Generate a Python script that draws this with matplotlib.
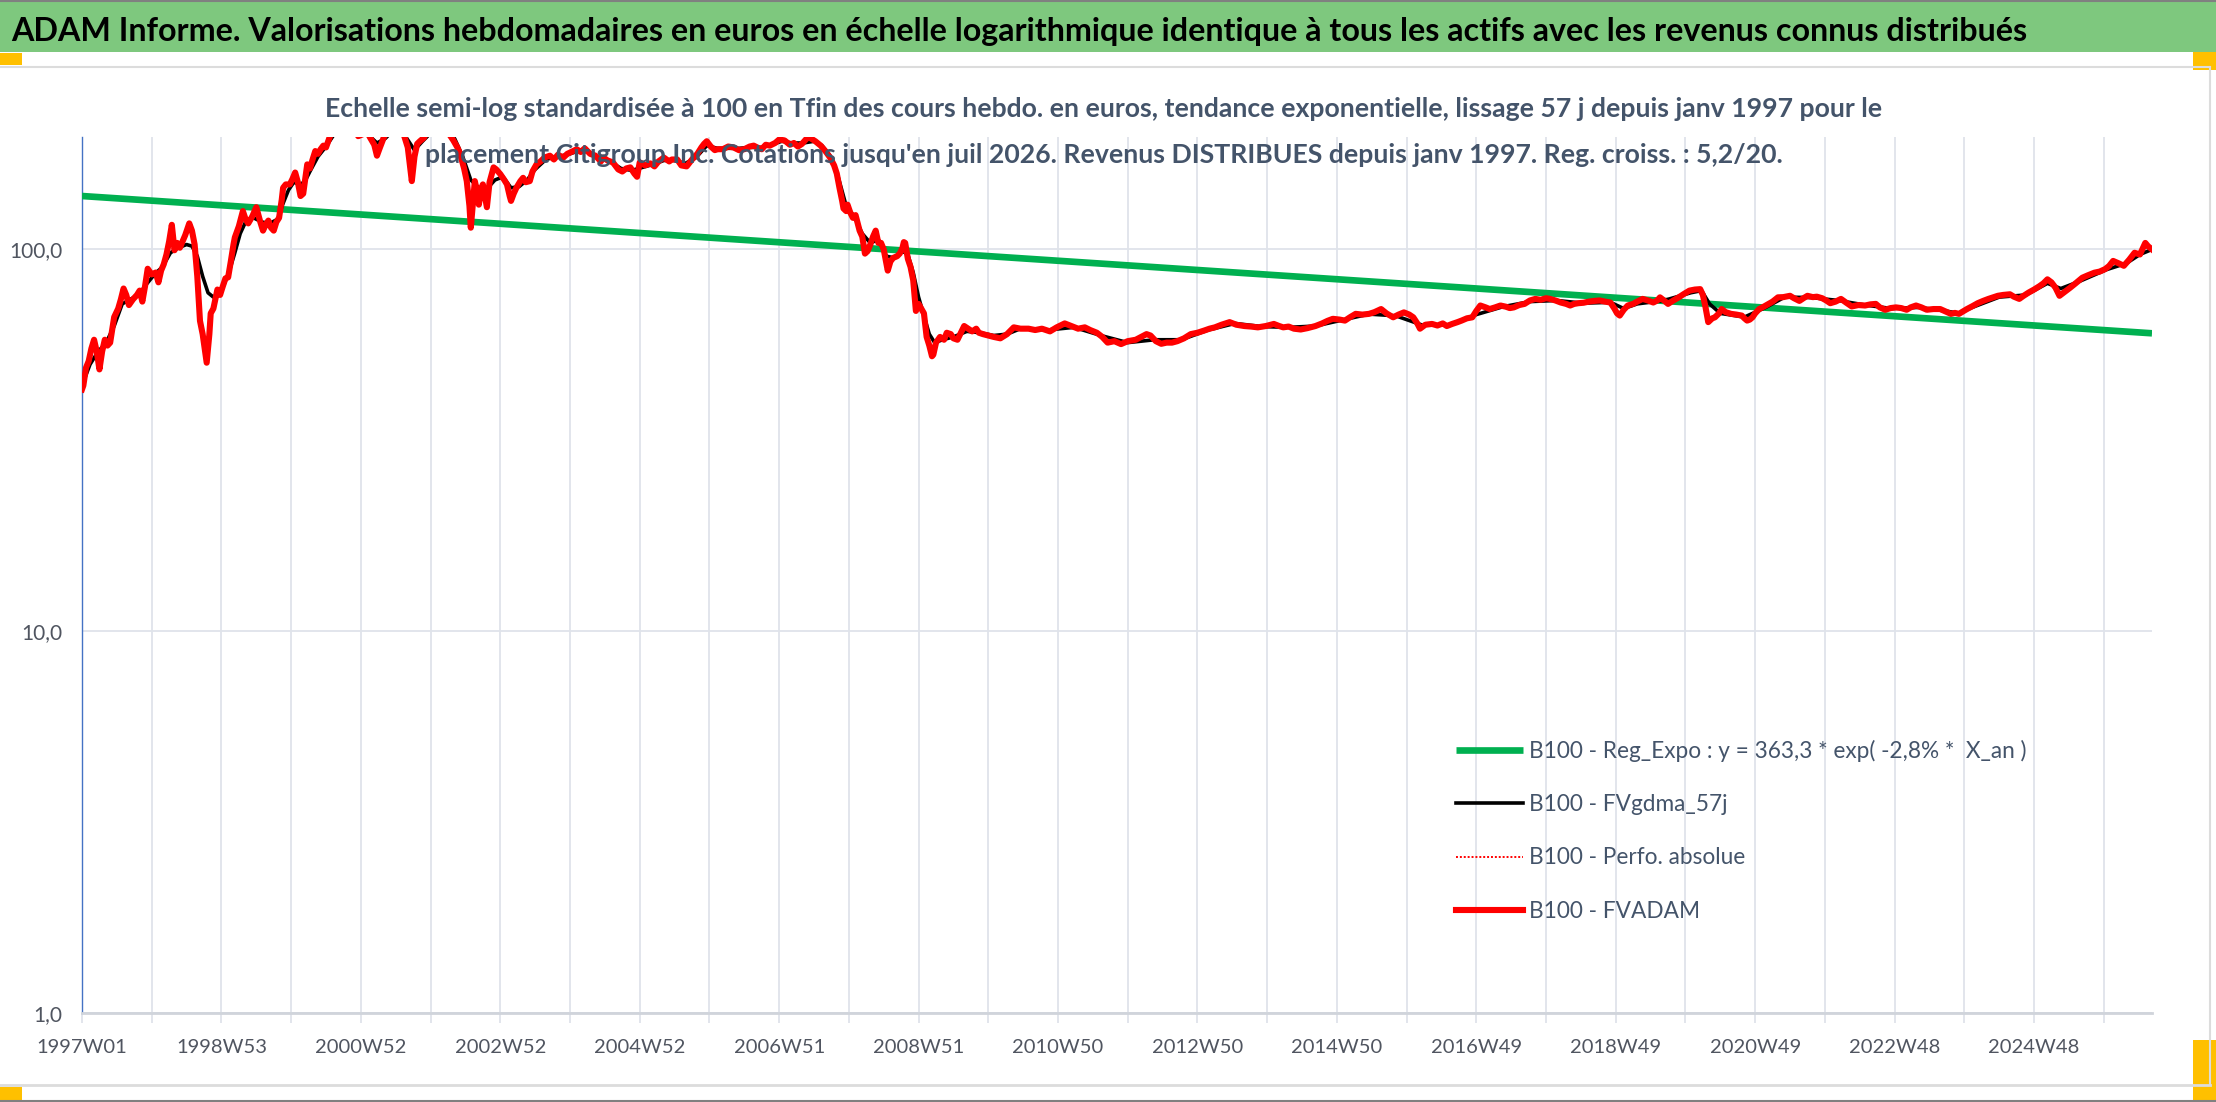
import numpy as np
import matplotlib
matplotlib.use("Agg")
import matplotlib.pyplot as plt
from matplotlib.patches import Rectangle
from matplotlib.lines import Line2D
from matplotlib.ticker import FixedLocator, NullLocator

plt.rcParams['font.family'] = ['Lato', 'DejaVu Sans']

W, H = 2216, 1102

# ---- data (week index since 1997W01, base-100 value) ----
tick_labels = ["1997W01", "1998W53", "2000W52", "2002W52", "2004W52", "2006W51",
               "2008W51", "2010W50", "2012W50", "2014W50", "2016W49", "2018W49",
               "2020W49", "2022W48", "2024W48"]
n_weeks = 1545

trend_weeks = [0, 1544]
trend_vals = [138.0, 60.3]

red_weeks = [0, 1, 3, 5, 7, 9, 11, 13, 15, 17, 19, 21, 24, 27, 29, 31, 33, 35, 38, 41,
             43, 45, 47, 49, 52, 55, 57, 59, 61, 63, 65, 67, 69, 71, 73, 75, 77, 80, 82, 84,
             86, 88, 90, 93, 95, 96, 98, 101, 103, 105, 107, 109, 111, 113, 114, 117, 120, 122, 124, 127,
             130, 133, 135, 137, 139, 141, 143, 145, 147, 149, 150, 152, 155, 157, 159, 161, 163, 165, 168, 170,
             172, 174, 176, 178, 180, 182, 185, 187, 190, 195, 200, 203, 206, 209, 212, 215, 218, 220, 222, 225,
             228, 232, 236, 240, 243, 246, 248, 250, 252, 255, 258, 262, 266, 270, 274, 277, 280, 282, 285, 287,
             289, 290, 291, 293, 295, 296, 298, 299, 301, 302, 304, 307, 309, 312, 315, 317, 319, 320, 322, 324,
             327, 329, 331, 334, 336, 339, 342, 345, 349, 352, 355, 359, 362, 365, 369, 372, 375, 379, 383, 387,
             389, 392, 396, 400, 403, 406, 409, 412, 414, 416, 420, 424, 427, 430, 434, 438, 440, 444, 447, 451,
             455, 459, 462, 464, 466, 469, 472, 474, 478, 482, 486, 490, 494, 498, 501, 505, 507, 510, 513, 517,
             520, 524, 528, 531, 534, 537, 541, 543, 547, 551, 555, 558, 561, 563, 565, 567, 568, 570, 571, 573,
             575, 577, 580, 582, 584, 586, 588, 590, 592, 594, 596, 598, 600, 601, 603, 605, 608, 610, 612, 613,
             614, 616, 618, 620, 622, 624, 626, 628, 630, 632, 634, 635, 637, 640, 643, 645, 648, 650, 653, 656,
             658, 661, 664, 667, 669, 672, 676, 680, 685, 690, 695, 700, 706, 711, 716, 722, 727, 733, 738, 743,
             748, 752, 757, 761, 765, 770, 775, 780, 786, 790, 794, 797, 801, 805, 809, 813, 817, 822, 827, 832,
             837, 841, 845, 850, 856, 861, 867, 872, 877, 883, 889, 893, 896, 900, 904, 909, 914, 920, 925, 929,
             933, 938, 942, 946, 950, 955, 960, 964, 969, 973, 978, 982, 986, 990, 993, 996, 998, 1002, 1007, 1011,
             1015, 1018, 1022, 1026, 1029, 1033, 1037, 1040, 1043, 1047, 1050, 1054, 1058, 1062, 1065, 1068, 1072, 1076, 1080, 1084,
             1088, 1092, 1095, 1099, 1103, 1107, 1110, 1113, 1116, 1120, 1124, 1128, 1132, 1136, 1140, 1143, 1145, 1147, 1150, 1153,
             1157, 1160, 1164, 1168, 1172, 1175, 1177, 1180, 1183, 1187, 1191, 1195, 1199, 1203, 1207, 1209, 1211, 1213, 1216, 1218,
             1221, 1223, 1226, 1230, 1234, 1238, 1240, 1242, 1244, 1246, 1248, 1251, 1255, 1258, 1261, 1265, 1269, 1274, 1277, 1281,
             1284, 1287, 1291, 1294, 1298, 1301, 1304, 1308, 1312, 1316, 1320, 1325, 1330, 1334, 1338, 1341, 1345, 1349, 1353, 1357,
             1361, 1364, 1368, 1372, 1376, 1381, 1386, 1390, 1394, 1397, 1400, 1403, 1406, 1410, 1414, 1418, 1422, 1426, 1429, 1433,
             1438, 1441, 1445, 1448, 1452, 1456, 1460, 1463, 1466, 1469, 1472, 1475, 1478, 1483, 1487, 1492, 1496, 1501, 1505, 1509,
             1512, 1515, 1519, 1523, 1527, 1531, 1535, 1539, 1541, 1544]
red_vals = [43, 44, 49, 51, 55, 58, 54, 48.5, 54, 58, 56, 57, 66.5, 70, 74, 79, 76, 71.5, 74, 76,
            78, 73, 80, 89, 86, 87, 82, 88, 91.5, 97, 105, 116, 99.5, 104, 101, 105, 109, 117, 112, 103,
            85, 65, 60, 50.5, 60, 68, 70, 78.5, 76, 80, 84, 84.5, 93, 103, 107.5, 115, 126, 120, 117, 122,
            129, 118, 112, 116, 119, 114, 112, 118, 121, 135, 145, 148, 148, 153, 159, 150, 138, 140, 167, 163,
            172, 181, 178, 183, 187, 185, 198, 210, 225, 230, 220, 210, 198, 200, 205, 196, 188, 176, 184, 196,
            205, 215, 210, 200, 185, 151, 175, 189, 192, 196, 205, 212, 208, 210, 200, 193, 185, 178, 163, 151,
            130, 114, 125, 151, 140, 131, 145, 148, 135, 129, 150, 164, 162, 157.5, 152, 148, 138, 134, 140, 145,
            151, 154, 150, 151, 160, 167, 170, 174, 176, 172, 177, 174, 178, 180, 183, 180, 184, 178, 176, 170,
            174, 171, 169, 162, 160, 163, 164, 158, 155, 169, 166, 168, 165, 170, 174, 170, 172, 172, 166, 165,
            172, 178, 185, 189, 192, 186, 182, 183, 183, 186, 185, 182, 183, 186, 187, 184, 183, 188, 187, 190,
            194, 193, 188, 190, 186, 189, 196, 196, 192, 187, 180, 174, 166, 158, 145, 134, 128, 126, 131, 125,
            121, 123, 112, 108, 97.5, 99, 103, 108, 112, 104, 104, 100, 92, 88, 93, 95, 96, 97.6, 101, 104.5,
            104, 94.5, 90, 83, 69, 72, 70, 68, 59, 56, 52.5, 53, 57, 59, 58, 60.5, 60, 58.5, 58, 61,
            63, 62, 61, 62, 60.5, 60, 59.5, 59, 58.5, 60, 62.5, 62, 62, 61.5, 62, 61, 62.5, 64, 63, 62,
            62.5, 61.5, 60.5, 59, 57, 57.5, 56.5, 57.5, 58, 59, 60, 59.5, 57.5, 56.6, 57, 57, 57.5, 58.5, 60, 60.5,
            61.3, 62, 62.5, 63.5, 64.5, 63.5, 63, 62.8, 62.5, 63, 63.8, 63, 62.5, 62.8, 62, 61.7, 62.2, 63, 64, 65,
            65.8, 65.5, 65.1, 66.5, 67.8, 67.5, 67.8, 68.5, 69.8, 68, 66.4, 67.5, 68.4, 67.5, 66.4, 64, 62, 63.5, 63.8, 63.2,
            64, 63, 63.8, 64.5, 65.1, 66, 66.4, 69, 71.3, 70.5, 69.8, 70.5, 71.3, 70.8, 70.2, 70.5, 71.5, 72, 73.5, 74.2,
            73.8, 74.5, 74.2, 73.5, 72.6, 72, 71.3, 72, 72.3, 72.5, 73, 73.3, 73.5, 73, 72.6, 70, 68, 67.1, 69.5, 71.3,
            72, 73, 74.2, 73.5, 72.6, 73.5, 74.9, 73.5, 72, 73.5, 74.9, 76.5, 78, 78.5, 78.7, 76, 70.5, 64.5, 66, 66.4,
            68, 69.8, 68.5, 67.8, 67.5, 67.1, 66, 65.1, 65.5, 66.4, 68, 69.8, 71, 72, 73, 74.9, 75, 75.6, 74.5, 73.3,
            74.5, 75.6, 75, 75.2, 74.5, 73.5, 72.3, 73, 74.2, 72.5, 70.9, 71.5, 71.3, 71.8, 72, 70.5, 69.5, 70.2, 70.5, 70.2,
            69.5, 70.5, 71.3, 70.5, 69.5, 69.8, 69.8, 68.8, 67.8, 68.2, 67.8, 68.8, 69.8, 71, 72.3, 73.3, 74.2, 75, 75.6, 76,
            76.3, 75.2, 74.2, 75.5, 77.1, 78.5, 80.1, 81.5, 83.5, 82, 79.4, 75.6, 77, 79.4, 81.5, 84.3, 85.5, 86.9, 87.5, 88.8,
            90.5, 93.3, 92, 90.6, 94, 98, 97, 104, 102, 100]

black_weeks = [0, 6, 12, 18, 24, 30, 36, 42, 48, 54, 60, 66, 72, 78, 82, 86, 90, 94, 98, 102,
               106, 110, 114, 118, 122, 128, 134, 140, 146, 150, 154, 158, 162, 166, 170, 176, 182, 188, 196, 204,
               212, 220, 226, 234, 242, 248, 254, 262, 270, 278, 284, 290, 296, 302, 308, 314, 320, 326, 332, 338,
               346, 354, 362, 370, 378, 386, 394, 402, 410, 418, 426, 434, 442, 450, 458, 466, 474, 482, 490, 498,
               506, 514, 522, 530, 538, 546, 552, 558, 564, 570, 576, 582, 588, 594, 600, 606, 612, 616, 620, 624,
               628, 632, 636, 642, 650, 660, 670, 680, 690, 700, 720, 740, 760, 780, 800, 820, 840, 860, 880, 900,
               920, 940, 960, 980, 1000, 1020, 1040, 1060, 1080, 1100, 1120, 1140, 1150, 1160, 1180, 1200, 1208, 1214, 1222, 1240,
               1256, 1270, 1290, 1310, 1330, 1350, 1370, 1390, 1400, 1410, 1430, 1450, 1466, 1476, 1490, 1510, 1525, 1535, 1544]
black_vals = [44, 50, 54, 57, 63, 72, 74, 76, 81, 86, 90, 98, 101, 103, 102, 96, 85, 77, 75, 77,
              81, 88, 98, 110, 118, 121, 118, 117, 120, 132, 143, 150, 148, 150, 160, 175, 186, 200, 222, 212,
              202, 190, 195, 208, 196, 182, 192, 205, 206, 195, 175, 152, 145, 144, 152, 155, 145, 146, 152, 162,
              172, 175, 177, 181, 180, 174, 170, 163, 161, 164, 167, 171, 171, 168, 174, 187, 184, 184, 184, 185,
              185, 188, 192, 190, 190, 192, 187, 176, 155, 130, 122, 110, 104, 106, 96, 95, 99, 97, 87, 75,
              67, 60, 57, 58, 59, 61, 60.5, 59.5, 60, 62, 61.5, 62.5, 59.5, 57, 58, 58, 61.5, 64, 62.8, 62.5,
              63, 65.3, 67.7, 67, 63.3, 63.5, 67.5, 70.8, 73, 73.5, 72.3, 72.7, 70, 72, 73.5, 77, 78, 72, 68, 66.5,
              70.5, 75, 74.8, 73.5, 71.5, 70, 70.5, 69, 68, 70.5, 75, 76, 81.5, 79, 82.5, 88.5, 92, 97, 100]

legend_labels = ["B100 - Reg_Expo : y = 363,3 * exp( -2,8% *  X_an )",
                 "B100 - FVgdma_57j",
                 "B100 - Perfo. absolue",
                 "B100 - FVADAM"]

title = ("ADAM Informe. Valorisations hebdomadaires en euros en échelle logarithmique "
         "identique à tous les actifs avec les revenus connus distribués")
subtitle1 = ("Echelle semi-log standardisée à 100 en Tfin des cours hebdo. en euros, tendance "
             "exponentielle, lissage 57 j depuis janv 1997 pour le")
subtitle2 = ("placement Citigroup Inc. Cotations jusqu'en juil 2026. Revenus DISTRIBUES depuis "
             "janv 1997. Reg. croiss. : 5,2/20.")

GREEN = "#00b050"
RED = "#ff0000"
SLATE = "#44546a"
GRID = "#dfe3ea"


def fx(x):
    return x / W


def fy(y):
    return 1 - y / H


fig = plt.figure(figsize=(W / 100, H / 100), dpi=100)
fig.patch.set_facecolor("white")

# header band and frame decorations
fig.add_artist(Rectangle((0, fy(52)), 1, 52 / H, transform=fig.transFigure,
                         facecolor="#7ec87e", edgecolor="none", zorder=0))
fig.add_artist(Line2D([0, 1], [fy(1), fy(1)], transform=fig.transFigure, color="#808080", lw=1.5))
fig.add_artist(Line2D([0, fx(2210)], [fy(67), fy(67)], transform=fig.transFigure, color="#dcdcdc", lw=1.5))
fig.add_artist(Line2D([0, fx(2210)], [fy(1085), fy(1085)], transform=fig.transFigure, color="#dcdcdc", lw=2))
fig.add_artist(Line2D([fx(2210), fx(2210)], [fy(67), fy(1085)], transform=fig.transFigure, color="#dcdcdc", lw=1.5))
fig.add_artist(Line2D([0, 1], [fy(1101), fy(1101)], transform=fig.transFigure, color="#808080", lw=1.5))
for (x0, y0, w, h) in [(0, 53, 22, 12), (2193, 52, 23, 18), (0, 1087, 22, 13), (2193, 1040, 23, 60)]:
    fig.add_artist(Rectangle((fx(x0), fy(y0 + h)), w / W, h / H, transform=fig.transFigure,
                             facecolor="#ffc000", edgecolor="none"))

fig.text(fx(11), fy(41), title, fontsize=23.2, fontweight="bold", color="black",
         ha="left", va="baseline")
fig.text(fx(1104), fy(117), subtitle1, fontsize=19.2, fontweight="bold", color=SLATE,
         ha="center", va="baseline")
fig.text(fx(1104), fy(163), subtitle2, fontsize=19.2, fontweight="bold", color=SLATE,
         ha="center", va="baseline")

ax = fig.add_axes([fx(82), fy(1013), fx(2152) - fx(82), (1013 - 137) / H])
ax.set_yscale("log")
ax.set_xlim(0, n_weeks - 1)
ax.set_ylim(1, 197)

ax.plot(trend_weeks, trend_vals, color=GREEN, lw=4.8, solid_capstyle="butt", zorder=3,
        label=legend_labels[0])
ax.plot(black_weeks, black_vals, color="black", lw=2.6, zorder=4, label=legend_labels[1])
ax.plot(red_weeks, red_vals, color=RED, lw=1.4, ls=(0, (1, 1)), zorder=5, label=legend_labels[2])
ax.plot(red_weeks, red_vals, color=RED, lw=4.4, zorder=6, label=legend_labels[3])

# axes styling
major_weeks = np.arange(0, n_weeks, 52)
ax.xaxis.set_major_locator(FixedLocator(major_weeks))
ax.set_xticklabels([tick_labels[i // 2] if i % 2 == 0 and i // 2 < len(tick_labels) else ""
                    for i in range(len(major_weeks))])
ax.yaxis.set_major_locator(FixedLocator([1, 10, 100]))
ax.yaxis.set_minor_locator(NullLocator())
ax.set_yticklabels(["1,0", "10,0", "100,0"])
ax.grid(True, which="major", color=GRID, lw=1.3)
ax.set_axisbelow(True)
for s in ["top", "right"]:
    ax.spines[s].set_visible(False)
ax.spines["bottom"].set_color("#d0d4db")
ax.spines["bottom"].set_linewidth(2)
ax.spines["left"].set_color("#4472c4")
ax.spines["left"].set_linewidth(1)
ax.tick_params(axis="x", length=7, width=1.3, color=GRID, pad=12, labelsize=14.5, labelcolor="#505560")
ax.tick_params(axis="y", length=0, pad=14, labelsize=15, labelcolor="#505560")

handles, labels = ax.get_legend_handles_labels()
leg = fig.legend(handles, labels, loc="upper left", bbox_to_anchor=(fx(1447), fy(731)),
                 bbox_transform=fig.transFigure, frameon=False, fontsize=16.3,
                 handlelength=2.95, handletextpad=0.26, labelspacing=1.42, borderaxespad=0)
for t in leg.get_texts():
    t.set_color(SLATE)

fig.savefig("out.png", dpi=100, facecolor="white")
